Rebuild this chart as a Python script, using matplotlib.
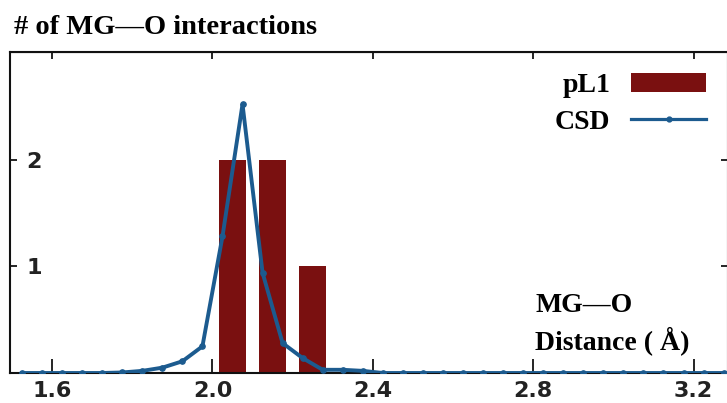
import matplotlib
matplotlib.use("Agg")
import matplotlib.pyplot as plt
from matplotlib.lines import Line2D
from matplotlib.patches import Patch

# ---- data ----
bar_centers = [2.05, 2.15, 2.25]
bar_counts = [2, 2, 1]

csd_x = [1.525, 1.575, 1.625, 1.675, 1.725, 1.775, 1.825, 1.875, 1.925, 1.975,
         2.025, 2.075, 2.125, 2.175, 2.225, 2.275, 2.325, 2.375, 2.425, 2.475,
         2.525, 2.575, 2.625, 2.675, 2.725, 2.775, 2.825, 2.875, 2.925, 2.975,
         3.025, 3.075, 3.125, 3.175, 3.225, 3.275]
csd_y = [0, 0, 0, 0, 0, 0.005, 0.02, 0.05, 0.11, 0.25,
         1.28, 2.52, 0.94, 0.28, 0.14, 0.03, 0.03, 0.02, 0, 0,
         0, 0, 0, 0, 0, 0, 0, 0, 0, 0,
         0, 0, 0, 0, 0, 0]

x_ticks = [1.6, 2.0, 2.4, 2.8, 3.2]
x_tick_labels = ["1.6", "2.0", "2.4", "2.8", "3.2"]
y_ticks = [1, 2]
y_tick_labels = ["1", "2"]

title = "# of MG\u2014O interactions"
xlabel_1 = "MG\u2014O"
xlabel_2 = "Distance ( \u00c5)"
labels = ["pL1", "CSD"]

BAR_COLOR = "#7a1010"
LINE_COLOR = "#1c5b8f"
SERIF = "Liberation Serif"

W, H = 727, 403
fig = plt.figure(figsize=(W / 100, H / 100), dpi=100)
ax = fig.add_axes([10 / W, 30 / H, 718 / W, 321 / H])

ax.bar(bar_centers, bar_counts, width=0.067, color=BAR_COLOR, zorder=2)
ax.plot(csd_x, csd_y, color=LINE_COLOR, lw=2.8, marker="o", ms=3.8,
        zorder=3, solid_joinstyle="miter")

ax.set_xlim(1.495, 3.286)
ax.set_ylim(0, 3.01)

for s in ax.spines.values():
    s.set_linewidth(1.5)
    s.set_color("#111111")

ax.set_xticks(x_ticks)
ax.set_xticklabels(x_tick_labels)
ax.set_yticks(y_ticks)
ax.set_yticklabels(y_tick_labels)
ax.tick_params(axis="x", direction="in", length=10, width=1.2, pad=5.5,
               labelsize=16, labelcolor="#222222")
ax.tick_params(axis="y", direction="in", length=5, width=1.2, pad=-12,
               labelsize=16, labelcolor="#222222")
for t in ax.get_yticklabels():
    t.set_horizontalalignment("left")
    t.set_fontweight("bold")
for t in ax.get_xticklabels():
    t.set_fontweight("bold")

secx = ax.secondary_xaxis("top")
secx.set_xticks(x_ticks)
secx.tick_params(direction="in", length=5, width=1.2, labeltop=False)
secy = ax.secondary_yaxis("right")
secy.set_yticks(y_ticks)
secy.tick_params(direction="in", length=5, width=1.2, labelright=False)

fig.text(14 / W, 1 - 28 / H, title, fontsize=20.5, fontweight="bold",
         family=SERIF, va="center", ha="left")
fig.text(535 / W, 1 - 306 / H, xlabel_1, fontsize=20, fontweight="bold",
         family=SERIF, va="center", ha="left")
fig.text(535 / W, 1 - 341 / H, xlabel_2, fontsize=20, fontweight="bold",
         family=SERIF, va="center", ha="left")

handles = [Patch(facecolor=BAR_COLOR, edgecolor="none"),
           Line2D([], [], color=LINE_COLOR, lw=2.3, marker="o", ms=3.5)]
leg = fig.legend(handles, labels, loc="upper right",
                 bbox_to_anchor=(706 / W, 1 - 73 / H),
                 frameon=False, markerfirst=False, handlelength=2.7,
                 handletextpad=0.75, handleheight=0.7, labelspacing=0.4,
                 borderpad=0, borderaxespad=0,
                 prop={"family": SERIF, "weight": "bold", "size": 20})

fig.savefig("out.png", dpi=100)
